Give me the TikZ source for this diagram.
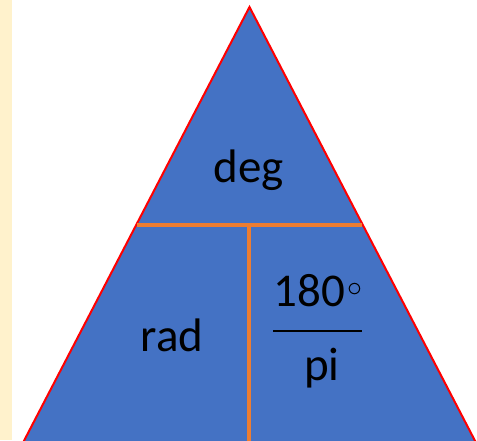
\documentclass[tikz,border=0pt]{standalone}
\usepackage{fontspec}
\setmainfont{Carlito}
\definecolor{triblue}{HTML}{4472C4}
\definecolor{strip}{HTML}{FFF2CC}
\definecolor{divorange}{HTML}{ED7D31}
\begin{document}
\begin{tikzpicture}[x=1pt,y=1pt,
  lbl/.style={font=\fontsize{47}{56}\selectfont, text=black, inner sep=0pt},
  divider/.style={draw=divorange, line width=3.5pt}]
\useasboundingbox (0,0) rectangle (477,440);
\clip (0,0) rectangle (477,440);
\fill[strip] (0,0) rectangle (12,440);
\coordinate (apex) at (249.5,433);
\coordinate (bl2) at (14,-20);
\coordinate (br2) at (485,-20);
\filldraw[fill=triblue, draw=red, line width=2pt, line join=miter] (apex) -- (br2) -- (bl2) -- cycle;
\coordinate (hl) at (137,215);
\coordinate (hr) at (362,215);
\coordinate (vt) at (249,215);
\coordinate (vb) at (249,-5);
\draw[divider] (hl) -- (hr);
\draw[divider] (vt) -- (vb);
\node[lbl] (deg) at (249,270) {deg};
\node[lbl] (rad) at (172,105) {rad};
\node[lbl] (num) at (318,149) {180\kern2pt\raisebox{0.22em}{\scalebox{1.2}{$\scriptstyle\circ$}}};
\coordinate (fl) at (273,109);
\coordinate (fr) at (362,109);
\draw[black, line width=2pt] (fl) -- (fr);
\node[lbl] (den) at (322,72) {pi};
\end{tikzpicture}
\end{document}
